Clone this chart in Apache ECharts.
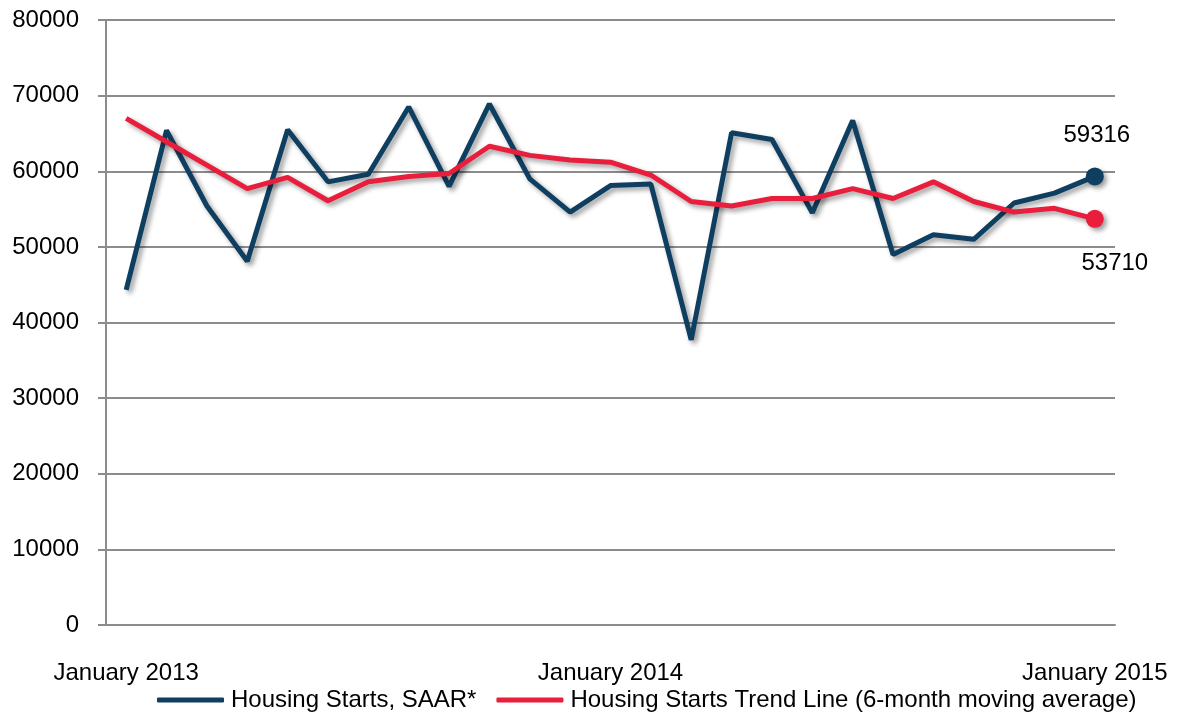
<!DOCTYPE html>
<html>
<head>
<meta charset="utf-8">
<script src="https://cdn.jsdelivr.net/npm/echarts@6/dist/echarts.min.js"></script>
<style>
html,body{margin:0;padding:0;background:#fff;}
#chart{width:1178px;height:719px;}
</style>
</head>
<body>
<div id="chart"></div>
<script>
const categories = [
  "January 2013","February 2013","March 2013","April 2013","May 2013","June 2013",
  "July 2013","August 2013","September 2013","October 2013","November 2013","December 2013",
  "January 2014","February 2014","March 2014","April 2014","May 2014","June 2014",
  "July 2014","August 2014","September 2014","October 2014","November 2014","December 2014",
  "January 2015"
];
const startsSAAR = [44300, 65400, 55400, 48100, 65500, 58600, 59600, 68500, 58000, 68900, 59000, 54600,
  58100, 58300, 37700, 65100, 64200, 54500, 66700, 49000, 51600, 51000, 55800, 57100, 59316];
const trendLine = [67000, 63900, 60800, 57700, 59200, 56100, 58600, 59300, 59700, 63300, 62100, 61500,
  61200, 59500, 56000, 55400, 56400, 56400, 57700, 56400, 58600, 56000, 54600, 55100, 53710];
const seriesNames = ["Housing Starts, SAAR*", "Housing Starts Trend Line (6-month moving average)"];
const yTicks = {min: 0, max: 80000, interval: 10000};

const FONT = "'Liberation Sans', Arial, sans-serif";
const BLUE = '#0f3f60';
const RED = '#e91e3c';
const last = categories.length - 1;

function buildData(values, color, labelOffset) {
  return values.map((v, i) => i === last ? {
    value: v,
    symbol: 'circle',
    symbolSize: 18,
    itemStyle: {color: color},
    label: {
      show: true, position: 'inside', offset: labelOffset,
      color: '#000', fontSize: 24, fontFamily: FONT,
      formatter: (p) => String(p.value)
    }
  } : {value: v, symbol: 'none'});
}

const shadow = {shadowColor: 'rgba(0,0,0,0.4)', shadowBlur: 5, shadowOffsetX: 3, shadowOffsetY: 3};

const chart = echarts.init(document.getElementById('chart'), null, {renderer: 'canvas'});
chart.setOption({
  animation: false,
  backgroundColor: '#fff',
  grid: {left: 106, right: 63, top: 20, bottom: 94, containLabel: false},
  legend: {
    data: seriesNames.map((n, i) => ({name: n, itemStyle: {color: i ? RED : BLUE}})),
    left: 152, top: 683,
    icon: 'roundRect',
    itemWidth: 67, itemHeight: 5, itemGap: 20,
    textStyle: {fontSize: 24, fontFamily: FONT, color: '#000', padding: [0, 0, 0, 2]}
  },
  xAxis: {
    type: 'category',
    data: categories,
    boundaryGap: true,
    axisLine: {lineStyle: {color: '#8c8c8c', width: 2}},
    axisTick: {show: false},
    axisLabel: {
      interval: (i) => i % 12 === 0,
      margin: 36, fontSize: 24, fontFamily: FONT, color: '#000',
      formatter: (v) => v
    },
    splitLine: {show: false}
  },
  yAxis: {
    type: 'value',
    min: yTicks.min, max: yTicks.max, interval: yTicks.interval,
    axisLine: {show: true, lineStyle: {color: '#8c8c8c', width: 2}},
    axisTick: {show: true, length: 8, lineStyle: {color: '#8c8c8c', width: 2}},
    axisLabel: {margin: 27, fontSize: 24, fontFamily: FONT, color: '#000', formatter: (v) => String(v)},
    splitLine: {show: true, lineStyle: {color: '#8c8c8c', width: 2}}
  },
  series: [
    {
      name: seriesNames[0], type: 'line',
      data: buildData(startsSAAR, BLUE, [2, -41]),
      lineStyle: Object.assign({color: BLUE, width: 5}, shadow),
      itemStyle: Object.assign({color: BLUE}, shadow),
      showAllSymbol: true,
      z: 3
    },
    {
      name: seriesNames[1], type: 'line',
      data: buildData(trendLine, RED, [20, 45]),
      lineStyle: Object.assign({color: RED, width: 5}, shadow),
      itemStyle: Object.assign({color: RED}, shadow),
      showAllSymbol: true,
      z: 4
    }
  ]
});
</script>
</body>
</html>
